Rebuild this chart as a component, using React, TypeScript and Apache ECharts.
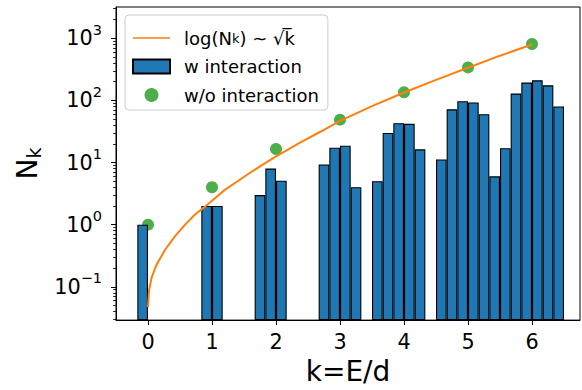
import React, { useEffect, useRef } from "react";
import * as echarts from "echarts";

// Histogram bins (width 1/6), centres and counts — "w interaction"
const binCenters = [
  -0.0833,
  0.9167, 1.0833,
  1.75, 1.9167, 2.0833,
  2.75, 2.9167, 3.0833, 3.25,
  3.5833, 3.75, 3.9167, 4.0833, 4.25,
  4.5833, 4.75, 4.9167, 5.0833, 5.25, 5.4167, 5.5833, 5.75, 5.9167, 6.0833, 6.25, 6.4167,
];
const binCounts = [
  1,
  2, 2,
  3, 8, 5.1,
  9.3, 17.3, 18.7, 4,
  5, 30, 43, 42, 16.3,
  11.2, 72, 97, 93, 60, 6, 17, 129, 194, 211, 175, 80,
];

// "w/o interaction" points
const levelK = [0, 1, 2, 3, 4, 5, 6];
const levelCounts = [1, 4, 16.5, 49, 135, 340, 810];

// Fitted curve log(N_k) ~ sqrt(k)
const fitK = [0, 0.016, 0.057, 0.135, 0.27, 0.42, 0.58, 0.73, 0.89, 1.05, 1.2, 1.4, 1.6, 1.8, 2.0, 2.375, 2.7, 3.0, 3.5, 4.0, 4.5, 5.0, 5.5, 6.0];
const fitN = [0.047, 0.087, 0.141, 0.229, 0.398, 0.646, 1.0, 1.445, 1.95, 2.69, 3.63, 5.0, 6.92, 9.33, 12.6, 20.9, 31.6, 46.8, 81, 134, 214, 336, 525, 794];

// Axes
const xTicks = [0, 1, 2, 3, 4, 5, 6];
const yMajorTicks = [0.1, 1, 10, 100, 1000];
const yMinorTicks = [
  0.03, 0.04, 0.05, 0.06, 0.07, 0.08, 0.09,
  0.2, 0.3, 0.4, 0.5, 0.6, 0.7, 0.8, 0.9,
  2, 3, 4, 5, 6, 7, 8, 9,
  20, 30, 40, 50, 60, 70, 80, 90,
  200, 300, 400, 500, 600, 700, 800, 900,
  2000, 3000,
];
const X_MIN = -0.5;
const X_MAX = 6.75;
const Y_MIN = 0.0291;
const Y_MAX = 3190;

const LINE_NAME = "log(N_k) ~ sqrt(k)";
const BAR_NAME = "w interaction";
const DOT_NAME = "w/o interaction";

const FONT = "DejaVu Sans";
const LINE_ICON = "path://M0,0L0.01,0L0.01,0.01Z M0,6.2L37,6.2L37,7.8L0,7.8Z M0,14L0.01,14L0.01,13.99Z";

export default function App() {
  const ref = useRef<HTMLDivElement>(null);

  useEffect(() => {
    if (!ref.current) return;
    const chart = echarts.init(ref.current, null, { renderer: "svg" });

    const supText = (v: number) => {
      const e = Math.round(Math.log10(v));
      return "{b|10}{s|" + (e < 0 ? "\u2212" + -e : String(e)) + "}";
    };

    chart.setOption({
      animation: false,
      backgroundColor: "#ffffff",
      textStyle: { fontFamily: FONT },
      grid: {
        left: 116,
        right: 2,
        top: 7,
        bottom: 67,
        show: true,
        borderColor: "#000",
        borderWidth: 1,
        backgroundColor: "transparent",
      },
      legend: {
        orient: "vertical",
        left: 125,
        top: 15,
        padding: [14, 9, 6, 7],
        itemWidth: 37,
        itemHeight: 14,
        itemGap: 10.5,
        backgroundColor: "rgba(255,255,255,0.8)",
        borderColor: "#cccccc",
        borderWidth: 1,
        borderRadius: 4,
        data: [
          { name: LINE_NAME, icon: LINE_ICON },
          { name: BAR_NAME, icon: "rect" },
          { name: DOT_NAME, icon: "circle" },
        ],
        formatter: (name: string) =>
          name === LINE_NAME ? "{t|log(N}{sub|k}{t|) ~ \u221Ak\u0305}" : "{t|" + name + "}",
        textStyle: {
          color: "#000",
          fontSize: 18,
          fontFamily: FONT,
          lineHeight: 14,
          padding: [0, 0, 0, 9],
          rich: {
            t: { fontSize: 18, fontFamily: FONT, color: "#000", lineHeight: 14 },
            sub: {
              fontSize: 13,
              fontFamily: FONT,
              color: "#000",
              lineHeight: 6,
              verticalAlign: "bottom",
            },
          },
        },
      },
      xAxis: {
        type: "value",
        min: X_MIN,
        max: X_MAX,
        name: "k=E/d",
        nameLocation: "middle",
        nameGap: 36,
        nameTextStyle: { fontSize: 28, fontFamily: FONT, color: "#000" },
        axisLine: { show: true, onZero: false, lineStyle: { color: "#000", width: 1 } },
        axisTick: {
          show: true,
          customValues: xTicks,
          length: 5,
          lineStyle: { color: "#000", width: 1 },
        },
        axisLabel: {
          customValues: xTicks,
          fontSize: 20.8,
          fontFamily: FONT,
          color: "#000",
          margin: 11,
        },
        splitLine: { show: false },
      },
      yAxis: [
        {
          type: "log",
          logBase: 10,
          min: Y_MIN,
          max: Y_MAX,
          startValue: Y_MIN,
          name: "{n|N}{k|k}",
          nameLocation: "middle",
          nameRotate: 90,
          nameGap: 73,
          nameTextStyle: {
            fontFamily: FONT,
            color: "#000",
            rich: {
              n: { fontSize: 28, fontFamily: FONT, color: "#000", lineHeight: 32 },
              k: {
                fontSize: 19,
                fontFamily: FONT,
                color: "#000",
                lineHeight: 19,
                verticalAlign: "bottom",
              },
            },
          },
          axisLine: { show: true, onZero: false, lineStyle: { color: "#000", width: 1 } },
          axisTick: {
            show: true,
            customValues: yMajorTicks,
            length: 5,
            lineStyle: { color: "#000", width: 1 },
          },
          axisLabel: {
            customValues: yMajorTicks,
            margin: 14,
            formatter: (v: number) => supText(v),
            rich: {
              b: { fontSize: 20.8, fontFamily: FONT, color: "#000", lineHeight: 32 },
              s: {
                fontSize: 14.5,
                fontFamily: FONT,
                color: "#000",
                lineHeight: 14.5,
                verticalAlign: "top",
              },
            },
          },
          splitLine: { show: false },
          minorTick: { show: false },
        },
        {
          type: "log",
          logBase: 10,
          min: Y_MIN,
          max: Y_MAX,
          position: "left",
          offset: 0,
          axisLine: { show: false, onZero: false },
          axisTick: {
            show: true,
            customValues: yMinorTicks,
            length: 3,
            lineStyle: { color: "#000", width: 0.8 },
          },
          axisLabel: { show: false },
          splitLine: { show: false },
        },
      ],
      series: [
        {
          name: DOT_NAME,
          type: "scatter",
          z: 1,
          symbol: "circle",
          symbolSize: 12,
          itemStyle: { color: "#4daf4a", opacity: 1 },
          data: levelK.map((k, i) => [k, levelCounts[i]]),
        },
        {
          name: BAR_NAME,
          type: "bar",
          z: 2,
          barWidth: 10.667,
          itemStyle: { color: "#1f77b4", borderColor: "#000", borderWidth: 1.1 },
          data: binCenters.map((x, i) => [x, binCounts[i]]),
        },
        {
          name: LINE_NAME,
          type: "line",
          z: 3,
          symbol: "none",
          showSymbol: false,
          smooth: false,
          lineStyle: { color: "#ff7f0e", width: 2 },
          itemStyle: { color: "#ff7f0e" },
          data: fitK.map((k, i) => [k, fitN[i]]),
        },
      ],
    });

    return () => chart.dispose();
  }, []);

  return (
    <div
      ref={ref}
      style={{ position: "absolute", left: 0, top: 0, width: 582, height: 390 }}
    />
  );
}
